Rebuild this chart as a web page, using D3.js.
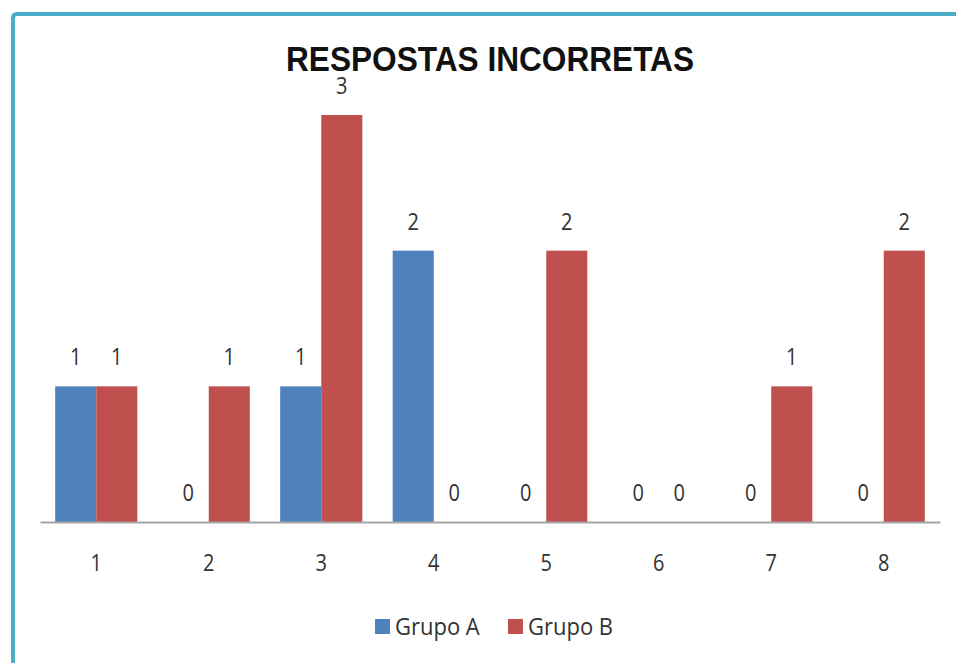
<!DOCTYPE html>
<html>
<head>
<meta charset="utf-8">
<script src="https://cdn.jsdelivr.net/npm/d3@7"></script>
<style>
  body { margin: 0; background: #fff; }
  svg { display: block; }
</style>
</head>
<body>
<svg id="chart" width="956" height="663"></svg>
<script>
var categories = ["1", "2", "3", "4", "5", "6", "7", "8"];
var seriesNames = ["Grupo A", "Grupo B"];
var grupoA = [1, 0, 1, 2, 0, 0, 0, 0];
var grupoB = [1, 1, 3, 0, 2, 0, 1, 2];
var title = "RESPOSTAS INCORRETAS";

var width = 956, height = 663;
var colors = {"Grupo A": "#4f81bd", "Grupo B": "#c0504d"};
var labelFont = "'Open Sans', 'Noto Sans', sans-serif";

var svg = d3.select("#chart");

// border of the chart area (top and left edges visible)
svg.append("path")
    .attr("d", "M13,663 L13,18 Q13,14 17,14 L956,14")
    .attr("fill", "none")
    .attr("stroke", "#4bacc6")
    .attr("stroke-width", 4);

var data = categories.map(function(c, i) {
  return {cat: c, "Grupo A": grupoA[i], "Grupo B": grupoB[i]};
});

var x0 = d3.scaleBand()
    .domain(categories)
    .range([40, 940])
    .paddingInner(0.27)
    .paddingOuter(0.135);

var x1 = d3.scaleBand()
    .domain(seriesNames)
    .range([0, x0.bandwidth()]);

var y = d3.scaleLinear()
    .domain([0, 3])
    .range([522, 115]);

// title
svg.append("text")
    .attr("x", 0).attr("y", 0)
    .attr("transform", "translate(490,71) scale(1,1.22)")
    .attr("text-anchor", "middle")
    .attr("font-family", "'Liberation Sans', Arial, sans-serif")
    .attr("font-weight", "bold")
    .attr("font-size", 28)
    .attr("textLength", 408)
    .attr("lengthAdjust", "spacingAndGlyphs")
    .attr("fill", "#111")
    .text(title);

var groups = svg.append("g").selectAll("g")
  .data(data)
  .enter().append("g")
    .attr("transform", function(d) { return "translate(" + x0(d.cat) + ",0)"; });

var cells = groups.selectAll("g")
  .data(function(d) { return seriesNames.map(function(k) { return {key: k, value: d[k]}; }); })
  .enter().append("g");

cells.append("rect")
    .attr("x", function(d) { return x1(d.key); })
    .attr("y", function(d) { return y(d.value); })
    .attr("width", x1.bandwidth())
    .attr("height", function(d) { return y(0) - y(d.value); })
    .attr("fill", function(d) { return colors[d.key]; });

cells.append("text")
    .attr("transform", function(d) {
      return "translate(" + (x1(d.key) + x1.bandwidth() / 2) + "," + (y(d.value) - 21) + ") scale(1,1.15)";
    })
    .attr("text-anchor", "middle")
    .attr("font-family", labelFont)
    .attr("font-size", 20)
    .attr("fill", "#333")
    .text(function(d) { return d.value; });

// x axis
var xAxis = d3.axisBottom(x0).tickSize(0).tickPadding(0);
var gx = svg.append("g")
    .attr("transform", "translate(0," + y(0) + ")")
    .call(xAxis);
gx.select(".domain").attr("stroke", "#a6a6a6").attr("stroke-width", 2);
gx.selectAll(".tick text")
    .attr("y", 0)
    .attr("dy", null)
    .attr("transform", "translate(0,49) scale(1,1.15)")
    .attr("font-family", labelFont)
    .attr("font-size", 20)
    .attr("fill", "#333");

// legend
var legend = svg.append("g");
var legendX = [375, 508];
seriesNames.forEach(function(name, i) {
  legend.append("rect")
      .attr("x", legendX[i]).attr("y", 619)
      .attr("width", 15).attr("height", 15)
      .attr("fill", colors[name]);
  legend.append("text")
      .attr("transform", "translate(" + (legendX[i] + 20) + ",635) scale(1,1.1)")
      .attr("font-family", labelFont)
      .attr("font-size", 22)
      .attr("fill", "#333")
      .text(name);
});
</script>
</body>
</html>
